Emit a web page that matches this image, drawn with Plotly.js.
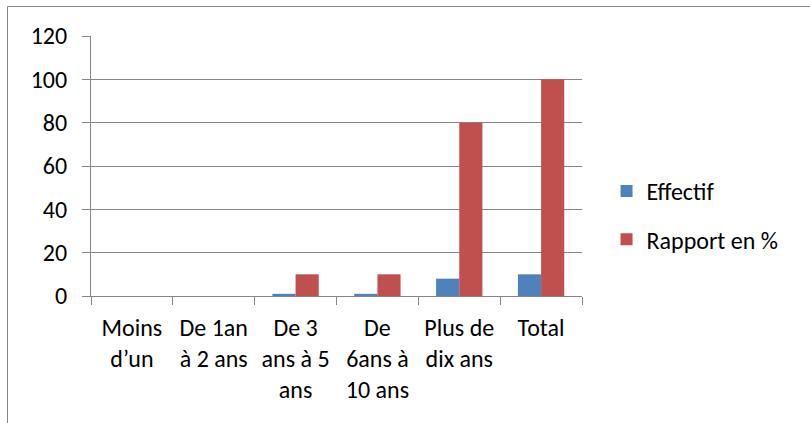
<!DOCTYPE html>
<html>
<head>
<meta charset="utf-8">
<script src="https://cdn.plot.ly/plotly-3.0.1.min.js"></script>
<style>html,body{margin:0;padding:0;background:#fff;}</style>
</head>
<body>
<div id="chart" style="width:810px;height:423px;"></div>
<script>
const categories = ["Moins<br>d’un", "De 1an<br>à 2 ans", "De 3<br>ans à 5<br>ans", "De<br>6ans à<br>10 ans", "Plus de<br>dix ans", "Total"];
const effectif = [0, 0, 1, 1, 8, 10];
const rapport = [0, 0, 10, 10, 80, 100];
const yTicks = [0, 20, 40, 60, 80, 100, 120];

const FONT = "Carlito, Calibri, Lato, sans-serif";
const GRAY = "#868686";

const traces = [
  {type: "bar", name: "Effectif", x: categories, y: effectif,
   marker: {color: "#4F81BD", line: {width: 0}}, legendgroup: "a", hoverinfo: "none"},
  {type: "bar", name: "Rapport en %", x: categories, y: rapport,
   marker: {color: "#C0504D", line: {width: 0}}, legendgroup: "b", hoverinfo: "none"}
];

const layout = {
  width: 810, height: 423,
  margin: {l: 91, r: 228, t: 36, b: 127, pad: 0},
  paper_bgcolor: "#fff", plot_bgcolor: "#fff",
  font: {family: FONT, size: 24, color: "#000"},
  barmode: "group", bargap: 0.434, bargroupgap: 0,
  showlegend: true,
  legend: {x: 1.05, xanchor: "left", y: 0.31, yanchor: "middle",
           font: {family: FONT, size: 24, color: "#000"},
           tracegroupgap: 14, traceorder: "grouped", bgcolor: "rgba(0,0,0,0)"},
  xaxis: {type: "category", showgrid: false, showline: true, linecolor: GRAY, linewidth: 1,
          ticks: "outside", tickson: "boundaries", ticklen: 8, tickcolor: GRAY, tickwidth: 1,
          ticklabelstandoff: 10,
          tickfont: {family: FONT, size: 24, color: "#000"}, tickangle: 0, fixedrange: true},
  yaxis: {range: [0, 120], tickvals: yTicks, ticktext: yTicks.map(String),
          showgrid: true, gridcolor: GRAY, gridwidth: 1, zeroline: false,
          showline: true, linecolor: GRAY, linewidth: 1,
          ticks: "outside", ticklen: 8, tickcolor: GRAY, tickwidth: 1,
          ticklabelstandoff: 10,
          tickfont: {family: FONT, size: 24, color: "#000"}, fixedrange: true},
  shapes: [{type: "rect", xref: "paper", yref: "paper",
            x0: (7.5 - 91) / 491, x1: (815 - 91) / 491,
            y0: (296 - 430) / 260, y1: (296 - 6.5) / 260,
            line: {color: GRAY, width: 1}, fillcolor: "rgba(0,0,0,0)", layer: "below"}]
};

Plotly.newPlot("chart", traces, layout, {displayModeBar: false, staticPlot: true});
</script>
</body>
</html>
